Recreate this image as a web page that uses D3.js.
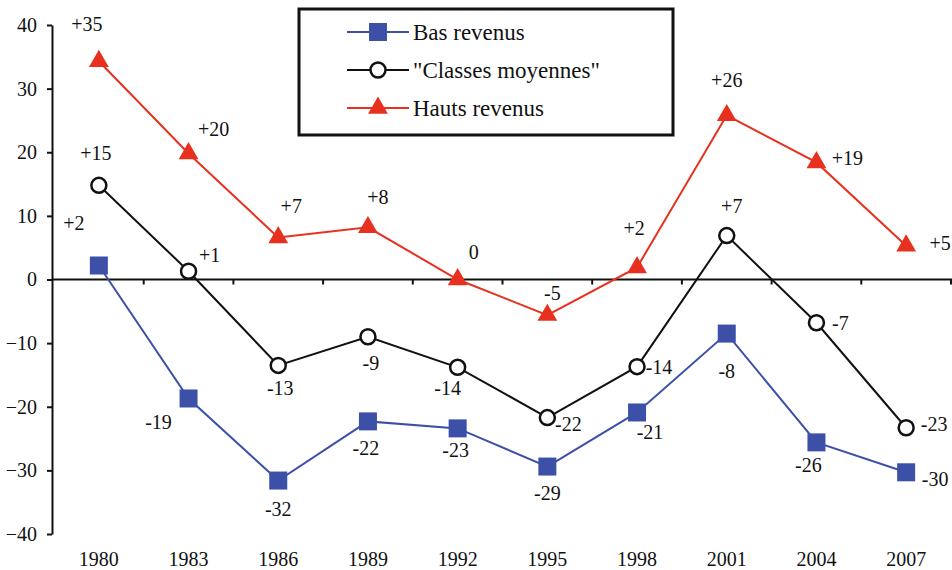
<!DOCTYPE html>
<html>
<head>
<meta charset="utf-8">
<script src="https://cdn.jsdelivr.net/npm/d3@7"></script>
<style>
    body { margin: 0; background: #fff; }
    svg text { font-family: 'Liberation Serif', 'Times New Roman', Times, Tinos, 'Noto Serif', 'DejaVu Serif', 'FreeSerif', serif; fill: #111; }
</style>
</head>
<body>
<div id="plot"></div>
<script>
// Data
let years = ['1980', '1983', '1986', '1989', '1992', '1995', '1998', '2001', '2004', '2007'];
let basValues = [2.2, -18.7, -31.6, -22.3, -23.4, -29.4, -20.9, -8.5, -25.6, -30.3];
let moyValues = [14.8, 1.3, -13.5, -9.0, -13.8, -21.7, -13.7, 6.9, -6.8, -23.3];
let hautValues = [34.3, 19.8, 6.6, 8.2, 0, -5.6, 1.9, 25.8, 18.4, 5.3];
let basLabels = ['+2', '-19', '-32', '-22', '-23', '-29', '-21', '-8', '-26', '-30'];
let moyLabels = ['+15', '+1', '-13', '-9', '-14', '-22', '-14', '+7', '-7', '-23'];
let hautLabels = ['+35', '+20', '+7', '+8', '0', '-5', '+2', '+26', '+19', '+5'];
let yTicks = [-40, -30, -20, -10, 0, 10, 20, 30, 40];

// where each value label sits relative to its marker
let basOffsets = [[-25, -43], [-30, 24], [0, 28], [-2, 27], [-2, 22], [0, 26], [13, 20], [0, 37], [-8, 23], [29, 7]];
let moyOffsets = [[-3, -32], [21, -16], [2, 23], [3, 26], [-10, 21], [21, 6], [22, 0], [5, -30], [24, 0], [28, -4]];
let hautOffsets = [[-12, -37], [25, -25], [13, -32], [10, -30], [16, -28], [5, -22], [-3, -39], [0, -35], [31, -4], [34, -3]];

let svgWidth = 952;
let svgHeight = 570;

let $svg = d3.select('#plot')
    .append('svg')
    .attr('width', svgWidth)
    .attr('height', svgHeight);

let xScale = d3.scaleBand()
    .domain(years)
    .range([54, 951]);

let yScale = d3.scaleLinear()
    .domain([-40, 40])
    .range([534, 25]);

let xPos = d => xScale(d) + xScale.bandwidth() / 2;

// y axis
let leftAxis = d3.axisLeft(yScale)
    .tickValues(yTicks)
    .tickSize(5)
    .tickSizeOuter(0)
    .tickPadding(10);

let $yAxis = $svg.append('g')
    .attr('transform', 'translate(52, 0)')
    .call(leftAxis)
    .attr('font-family', null)
    .attr('font-size', 20);

$yAxis.selectAll('path, line').attr('stroke', '#111').attr('stroke-width', 2);
$yAxis.selectAll('text').attr('fill', '#111');

// zero line with ticks between categories
let $zero = $svg.append('g');
$zero.append('line')
    .attr('x1', 52).attr('x2', svgWidth)
    .attr('y1', yScale(0)).attr('y2', yScale(0))
    .attr('stroke', '#111')
    .attr('stroke-width', 2);

$zero.selectAll('.sep')
    .data(years)
    .enter()
    .append('line')
    .attr('x1', d => xScale(d) + xScale.bandwidth())
    .attr('x2', d => xScale(d) + xScale.bandwidth())
    .attr('y1', yScale(0))
    .attr('y2', yScale(0) + 5)
    .attr('stroke', '#111')
    .attr('stroke-width', 2);

// year labels at the bottom
let bottomAxis = d3.axisBottom(xScale).tickSize(0).tickPadding(0);
let $xAxis = $svg.append('g')
    .attr('transform', 'translate(0, 552)')
    .call(bottomAxis)
    .attr('font-family', null)
    .attr('font-size', 20);
$xAxis.select('.domain').remove();
$xAxis.selectAll('text').attr('fill', '#111');

let series = [
    { name: 'Bas revenus', values: basValues, labels: basLabels, offsets: basOffsets, color: '#3d50a8', marker: 'square' },
    { name: '"Classes moyennes"', values: moyValues, labels: moyLabels, offsets: moyOffsets, color: '#111', marker: 'circle' },
    { name: 'Hauts revenus', values: hautValues, labels: hautLabels, offsets: hautOffsets, color: '#e8301f', marker: 'triangle' }
];

let line = d3.line()
    .x((d, i) => xPos(years[i]))
    .y(d => yScale(d));

function drawMarker($g, s, x, y) {
    if (s.marker === 'square') {
        $g.append('rect')
            .attr('x', x - 9).attr('y', y - 9)
            .attr('width', 18).attr('height', 18)
            .attr('fill', s.color);
    } else if (s.marker === 'circle') {
        $g.append('circle')
            .attr('cx', x).attr('cy', y)
            .attr('r', 7.5)
            .attr('fill', '#fff')
            .attr('stroke', '#111')
            .attr('stroke-width', 2.5);
    } else {
        $g.append('path')
            .attr('d', d3.symbol().type(d3.symbolTriangle).size(170)())
            .attr('transform', `translate(${x}, ${y})`)
            .attr('fill', s.color);
    }
}

series.forEach(s => {
    let $g = $svg.append('g');

    $g.append('path')
        .datum(s.values)
        .attr('d', line)
        .attr('fill', 'none')
        .attr('stroke', s.color)
        .attr('stroke-width', 2);

    s.values.forEach((v, i) => {
        let x = xPos(years[i]);
        let y = yScale(v);
        drawMarker($g, s, x, y);
        $g.append('text')
            .attr('x', x + s.offsets[i][0])
            .attr('y', y + s.offsets[i][1])
            .attr('text-anchor', 'middle')
            .attr('dominant-baseline', 'central')
            .attr('font-size', 20)
            .text(s.labels[i]);
    });
});

// legend
let $legend = $svg.append('g');
$legend.append('rect')
    .attr('x', 299).attr('y', 9)
    .attr('width', 374).attr('height', 126)
    .attr('fill', '#fff')
    .attr('stroke', '#111')
    .attr('stroke-width', 3);

series.forEach((s, i) => {
    let ly = 32 + i * 38;
    $legend.append('line')
        .attr('x1', 347).attr('x2', 409)
        .attr('y1', ly).attr('y2', ly)
        .attr('stroke', s.color)
        .attr('stroke-width', 2);
    drawMarker($legend, s, 378, ly);
    $legend.append('text')
        .attr('x', 413)
        .attr('y', ly)
        .attr('dominant-baseline', 'central')
        .attr('font-size', 23)
        .text(s.name);
});
</script>
</body>
</html>
